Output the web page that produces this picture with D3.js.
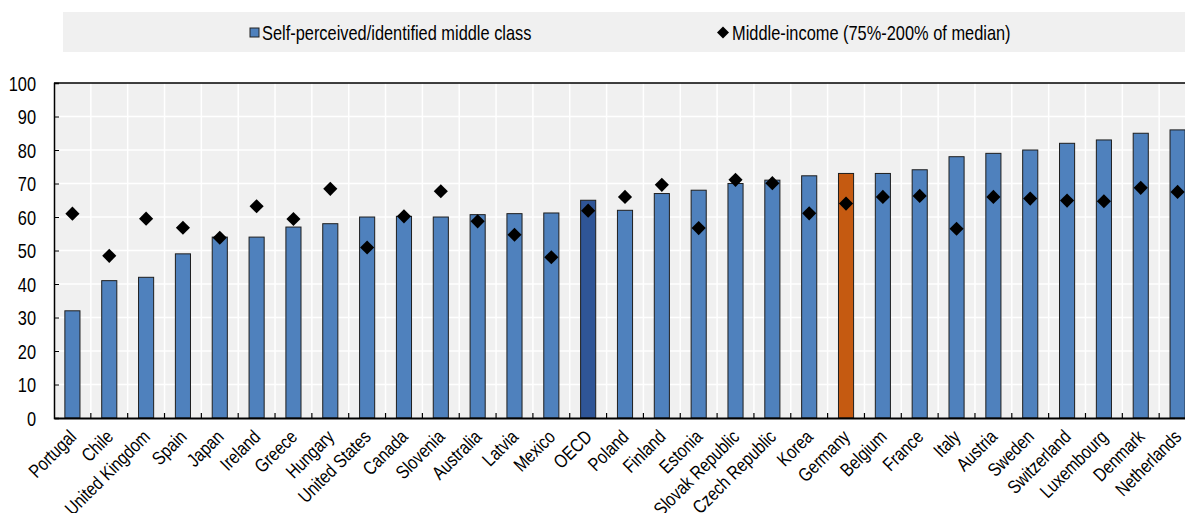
<!DOCTYPE html>
<html>
<head>
<meta charset="utf-8">
<script src="https://cdn.jsdelivr.net/npm/d3@7/dist/d3.min.js"></script>
<style>
  html, body { margin: 0; padding: 0; background: #ffffff; }
  svg { display: block; }
  text { font-family: "Liberation Sans", Arial, sans-serif; fill: #000; }
</style>
</head>
<body>
<svg id="chart" width="1185" height="513"></svg>
<script>
// Share of population identifying as middle class vs. share in middle-income band
const countries = [
  "Portugal", "Chile", "United Kingdom", "Spain", "Japan", "Ireland", "Greece",
  "Hungary", "United States", "Canada", "Slovenia", "Australia", "Latvia", "Mexico",
  "OECD", "Poland", "Finland", "Estonia", "Slovak Republic", "Czech Republic", "Korea",
  "Germany", "Belgium", "France", "Italy", "Austria", "Sweden", "Switzerland",
  "Luxembourg", "Denmark", "Netherlands"
];
const selfPerceived = [
  32, 41, 42, 49, 54, 54, 57,
  58, 60, 60.2, 60, 60.7, 61, 61.2,
  65, 62, 67, 68, 70, 71, 72.3,
  73, 73, 74.1, 78, 79, 80, 82,
  83, 85, 86
];
const middleIncome = [
  61, 48.4, 59.5, 56.8, 53.8, 63.2, 59.4,
  68.4, 50.9, 60.2, 67.7, 58.7, 54.7, 48,
  61.9, 66, 69.6, 56.7, 71.1, 70.1, 61.1,
  64, 66, 66.3, 56.5, 66, 65.5, 64.9,
  64.7, 68.7, 67.5
];
const yTicks = [0, 10, 20, 30, 40, 50, 60, 70, 80, 90, 100];
const seriesNames = ["Self-perceived/identified middle class", "Middle-income (75%-200% of median)"];

const colours = { bar: "#4f81bd", oecd: "#2f5597", germany: "#c55a11", panel: "#f0f0f0" };
// Condensed lettering: regular sans squeezed horizontally
const NARROW = 0.82;

const svg = d3.select("#chart");
const plot = { left: 54, right: 1196, top: 83, bottom: 418 };

const x = d3.scaleBand().domain(countries).range([plot.left, plot.right]).paddingInner(0).paddingOuter(0);
const y = d3.scaleLinear().domain([0, 100]).range([plot.bottom, plot.top]);

// Legend strip
const legend = svg.append("g");
legend.append("rect").attr("x", 63).attr("y", 12).attr("width", 1122).attr("height", 40).attr("fill", colours.panel);
legend.append("rect").attr("x", 250).attr("y", 28).attr("width", 9).attr("height", 9)
  .attr("fill", colours.bar).attr("stroke", "#222").attr("stroke-width", 1);
legend.append("text").attr("font-size", 20)
  .attr("transform", `translate(262,39.5) scale(${NARROW},1)`).text(seriesNames[0]);
legend.append("path").attr("d", d3.symbol(d3.symbolSquare, 72)())
  .attr("transform", "translate(723,32.5) rotate(45)").attr("fill", "#000");
legend.append("text").attr("font-size", 20)
  .attr("transform", `translate(732,39.5) scale(${NARROW},1)`).text(seriesNames[1]);

// Plot panel
svg.append("rect").attr("x", plot.left).attr("y", plot.top)
  .attr("width", plot.right - plot.left).attr("height", plot.bottom - plot.top).attr("fill", colours.panel);

// Grid lines
const grid = svg.append("g").attr("stroke", "#ffffff").attr("stroke-width", 1.5);
grid.selectAll("line.h").data(yTicks.filter(t => t > 0 && t < 100)).join("line")
  .attr("x1", plot.left).attr("x2", plot.right).attr("y1", d => y(d)).attr("y2", d => y(d));
grid.selectAll("line.v").data(countries.slice(1)).join("line")
  .attr("x1", d => x(d)).attr("x2", d => x(d)).attr("y1", plot.top).attr("y2", plot.bottom);

// Bars
const bw = x.bandwidth() * 0.41;
svg.append("g").selectAll("rect").data(countries).join("rect")
  .attr("x", d => x(d) + (x.bandwidth() - bw) / 2)
  .attr("y", (d, i) => y(selfPerceived[i]))
  .attr("width", bw)
  .attr("height", (d, i) => y(0) - y(selfPerceived[i]))
  .attr("fill", d => d === "OECD" ? colours.oecd : d === "Germany" ? colours.germany : colours.bar)
  .attr("stroke", "#1e1e1e").attr("stroke-width", 1);

// Diamonds
const diamond = d3.symbol(d3.symbolSquare, 100)();
svg.append("g").selectAll("path").data(countries).join("path")
  .attr("d", diamond)
  .attr("transform", (d, i) => `translate(${x(d) + x.bandwidth() / 2},${y(middleIncome[i])}) rotate(45)`)
  .attr("fill", "#000");

// Frame: top border
svg.append("line").attr("x1", plot.left).attr("x2", plot.right).attr("y1", plot.top).attr("y2", plot.top)
  .attr("stroke", "#000").attr("stroke-width", 1.5);

// Value axis with inward ticks
const yAxis = svg.append("g").attr("transform", `translate(${plot.left},0)`)
  .call(d3.axisRight(y).tickValues(yTicks).tickSize(5).tickFormat(d3.format("d")));
yAxis.select(".domain").attr("stroke", "#000").attr("stroke-width", 1.5);
yAxis.selectAll(".tick line").attr("stroke", "#000");
yAxis.selectAll(".tick text")
  .attr("font-size", 20).attr("font-family", null)
  .attr("text-anchor", "end").attr("x", 0).attr("dy", "0.35em")
  .attr("transform", `translate(-18,0) scale(${NARROW},1)`);

// Category axis with rotated labels
const xAxis = svg.append("g").attr("transform", `translate(0,${plot.bottom})`)
  .call(d3.axisBottom(x).tickSize(0).tickSizeOuter(0));
xAxis.select(".domain").attr("stroke", "#000").attr("stroke-width", 2);
xAxis.selectAll(".tick text")
  .attr("font-size", 19).attr("font-family", null)
  .attr("text-anchor", "end")
  .attr("dy", "0").attr("y", 0).attr("x", 0)
  .attr("transform", `translate(5,20) rotate(-45) scale(${NARROW},1)`);

// Tick marks between categories along the base
svg.append("g").selectAll("line").data(countries.slice(1)).join("line")
  .attr("x1", d => x(d)).attr("x2", d => x(d))
  .attr("y1", plot.bottom).attr("y2", plot.bottom - 5)
  .attr("stroke", "#000").attr("stroke-width", 1.2);
</script>
</body>
</html>
